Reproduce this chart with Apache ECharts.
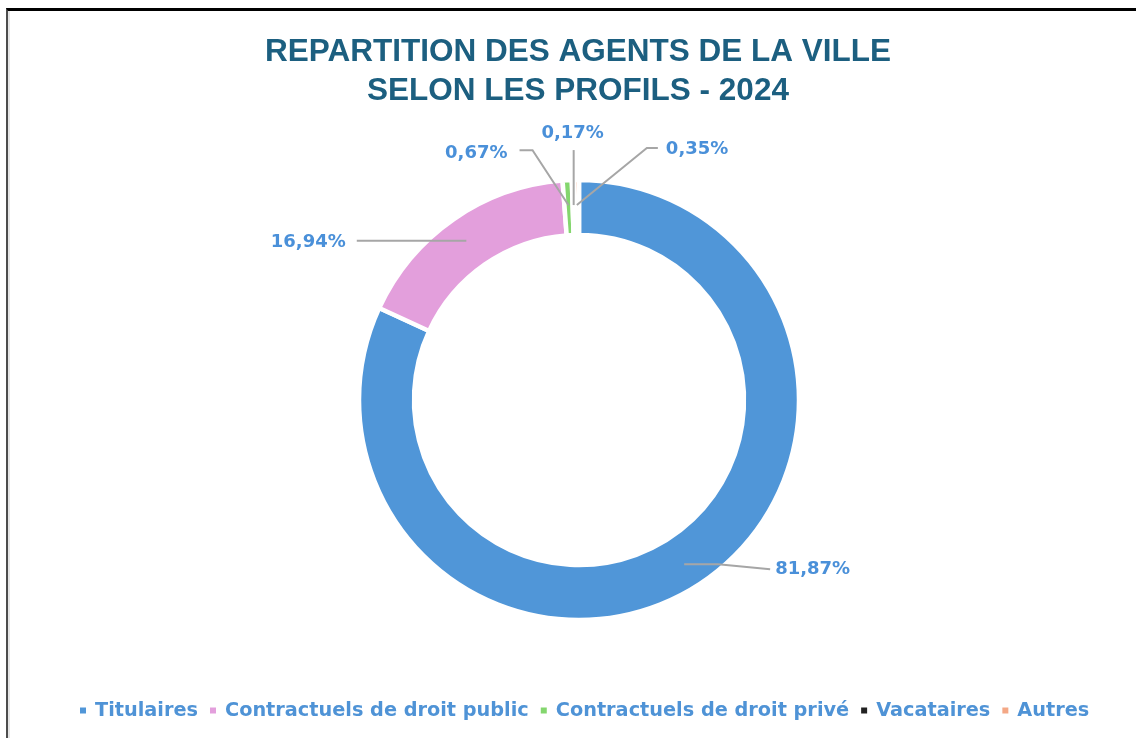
<!DOCTYPE html>
<html>
<head>
<meta charset="utf-8">
<title>Répartition des agents de la ville</title>
<script src="https://cdn.jsdelivr.net/npm/echarts@6/dist/echarts.min.js"></script>
<style>
  html, body { margin: 0; padding: 0; background: #fff; }
  #frame {
    position: absolute; left: 6px; top: 8px; width: 1130px; height: 730px;
    border-top: 3px solid #000; border-left: 2px solid #4d4d4d;
    box-shadow: inset 2px 0 0 #e6e6e6;
  }
  #chart { position: absolute; left: 0; top: 0; width: 1136px; height: 738px; }
</style>
</head>
<body>
<div id="frame"></div>
<div id="chart"></div>
<script>
// data
const categories = ['Titulaires', 'Contractuels de droit public', 'Contractuels de droit privé', 'Vacataires', 'Autres'];
const shares = [81.87, 16.94, 0.67, 0.17, 0.35];
const colors = ['#5096D8', '#E39FDC', '#84D66E', '#222222', '#F4A886'];

const CENTER = [579, 400];
const MID_R = 195;   // leader lines start in the middle of the ring

// where each label sits relative to its anchor on the ring
const placements = [
    { dx: 91, dy: 5, align: 'left', line: [[34, 0], [86, 5]] },
    { dx: -122, dy: 2, align: 'right', flat: true, gap: 11 },
    { dx: -61, dy: -52, align: 'right', line: [[-36, -55], [-49, -55]] },
    { dx: -1, dy: -72, align: 'center', line: [[0, -28], [0, -55]] },
    { dx: 89, dy: -56, align: 'left', line: [[70, -57], [81, -57]] }
];

const pieData = categories.map((name, i) => ({ name: name, value: shares[i] }));

// anchor of a slice: middle of its arc, on the middle of the ring
function anchorOf(i) {
    const total = shares.reduce((s, v) => s + v, 0);
    const before = shares.slice(0, i).reduce((s, v) => s + v, 0);
    const ang = (before + shares[i] / 2) / total * 2 * Math.PI;
    return [CENTER[0] + MID_R * Math.sin(ang), CENTER[1] - MID_R * Math.cos(ang)];
}

const chart = echarts.init(document.getElementById('chart'));

chart.setOption({
    animation: false,
    color: colors,
    title: {
        text: 'REPARTITION DES AGENTS DE LA VILLE\nSELON LES PROFILS - 2024',
        left: 578,
        top: 33,
        padding: 0,
        textAlign: 'center',
        textStyle: {
            fontFamily: 'Liberation Sans',
            fontSize: 31.5,
            fontWeight: 'bold',
            lineHeight: 39,
            color: '#1C5F80'
        }
    },
    legend: {
        data: categories,
        left: 78,
        top: 701,
        padding: 0,
        icon: 'rect',
        itemWidth: 8,
        itemHeight: 8,
        itemGap: 10,
        textStyle: {
            fontFamily: 'DejaVu Sans',
            fontSize: 19.3,
            fontWeight: 'bold',
            color: '#4F93D6',
            padding: [0, 0, 0, 3]
        }
    },
    series: [
        {
            type: 'pie',
            center: CENTER,
            radius: [165, 220],
            startAngle: 90,
            silent: true,
            avoidLabelOverlap: false,
            label: { show: false },
            labelLine: { show: false },
            itemStyle: { borderColor: '#fff', borderWidth: 4.5 },
            data: pieData
        },
        {
            // invisible overlay that carries the labels and leader lines
            type: 'pie',
            z: 5,
            center: CENTER,
            radius: [0, MID_R],
            startAngle: 90,
            silent: true,
            avoidLabelOverlap: false,
            itemStyle: { color: 'rgba(0,0,0,0)' },
            label: {
                show: true,
                position: 'outside',
                fontFamily: 'DejaVu Sans',
                fontSize: 18,
                fontWeight: 'bold',
                color: '#4A90D9',
                formatter: p => p.value.toFixed(2).replace('.', ',') + '%'
            },
            labelLine: {
                show: true,
                length: 10,
                length2: 10,
                lineStyle: { color: '#A6A6A6', width: 2 }
            },
            labelLayout: function (p) {
                const cfg = placements[p.dataIndex];
                const a = anchorOf(p.dataIndex);
                const x = a[0] + cfg.dx;
                const y = a[1] + cfg.dy;
                let pts;
                if (cfg.flat) {
                    const ly = y - 1;
                    const h = Math.sqrt(MID_R * MID_R - (ly - CENTER[1]) * (ly - CENTER[1]));
                    const sx = a[0] < CENTER[0] ? CENTER[0] - h : CENTER[0] + h;
                    const ex = x + (cfg.align === 'right' ? cfg.gap : -cfg.gap);
                    pts = [[sx, ly], [(sx + ex) / 2, ly], [ex, ly]];
                } else {
                    pts = [a].concat(cfg.line.map(o => [a[0] + o[0], a[1] + o[1]]));
                }
                return { x: x, y: y, align: cfg.align, verticalAlign: 'middle', labelLinePoints: pts };
            },
            data: pieData
        }
    ]
});
</script>
</body>
</html>
